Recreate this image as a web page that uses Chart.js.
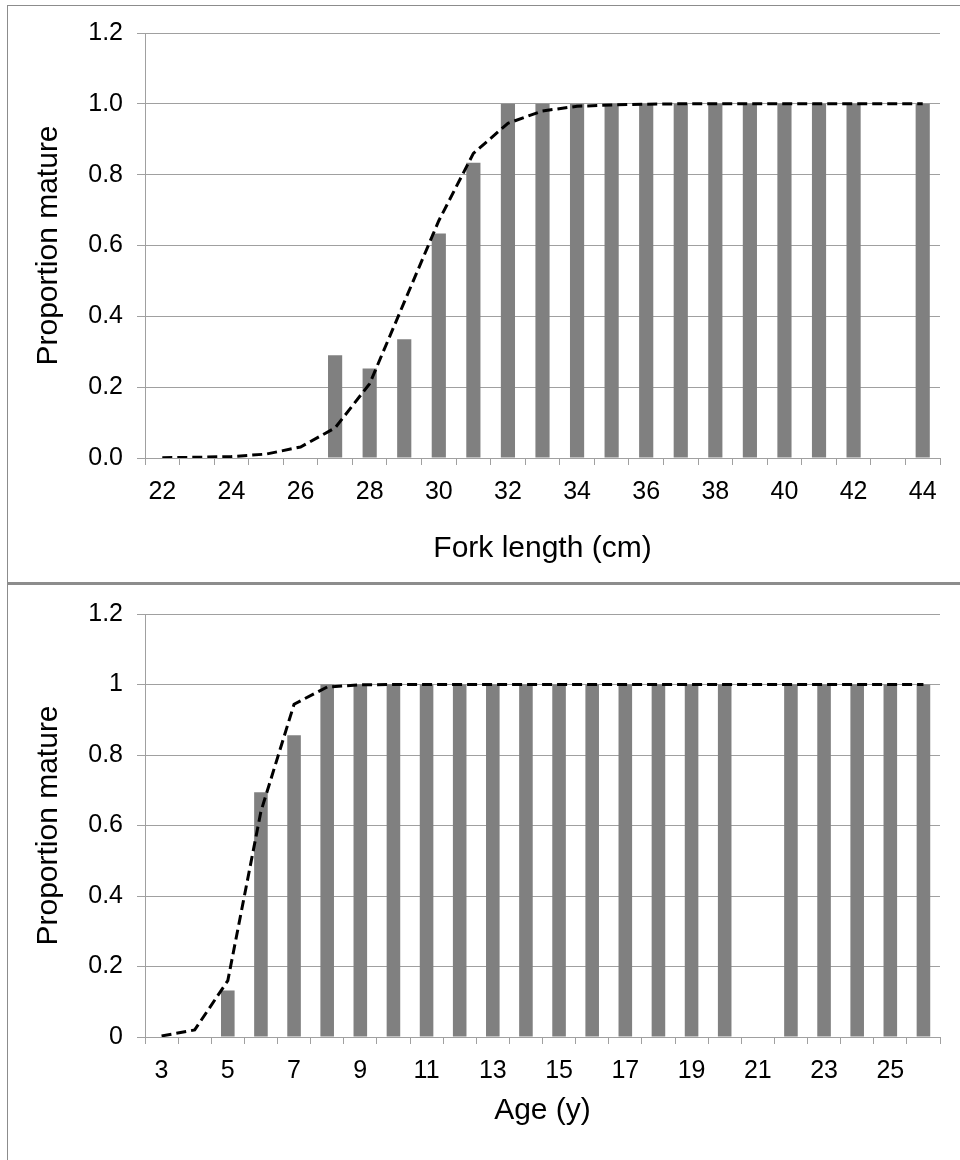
<!DOCTYPE html>
<html>
<head>
<meta charset="utf-8">
<script src="https://cdn.jsdelivr.net/npm/chart.js@4.4.1/dist/chart.umd.min.js"></script>
<style>
  body { margin: 0; background: #fff; }
  #page { position: relative; width: 960px; height: 1160px; overflow: hidden; background: #fff; }
  canvas { position: absolute; left: 0; }
  .rule { position: absolute; background: #8c8c8c; }
</style>
</head>
<body>
<div id="page">
  <canvas id="lengthChart" width="960" height="582" style="top:0"></canvas>
  <canvas id="ageChart" width="960" height="575" style="top:585px"></canvas>
  <div class="rule" style="left:7px;top:5px;width:953px;height:1px"></div>
  <div class="rule" style="left:7px;top:5px;width:1px;height:1155px"></div>
  <div class="rule" style="left:7px;top:582px;width:953px;height:3px"></div>
</div>
<script>
// maturity by fork length (cm)
const lengthCats = ['22','23','24','25','26','27','28','29','30','31','32','33',
                    '34','35','36','37','38','39','40','41','42','43','44'];
const lengthObserved = [0, 0, 0, 0, 0, 0.29, 0.253, 0.335, 0.634, 0.834, 1, 1,
                        1, 1, 1, 1, 1, 1, 1, 1, 1, null, 1];
const lengthFitted = [0.001, 0.002, 0.004, 0.011, 0.031, 0.085, 0.21, 0.44, 0.67, 0.86, 0.945, 0.98,
                      0.993, 0.997, 0.999, 1, 1, 1, 1, 1, 1, 1, 1];

// maturity by age (y)
const ageCats = ['3','4','5','6','7','8','9','10','11','12','13','14',
                 '15','16','17','18','19','20','21','22','23','24','25','26'];
const ageObserved = [0, 0, 0.132, 0.694, 0.856, 1, 1, 1, 1, 1, 1, 1,
                     1, 1, 1, 1, 1, 1, null, 1, 1, 1, 1, 1];
const ageFitted = [0.003, 0.02, 0.16, 0.64, 0.944, 0.993, 0.999, 1, 1, 1, 1, 1,
                   1, 1, 1, 1, 1, 1, 1, 1, 1, 1, 1, 1];

const FONT = "'Liberation Sans', Arial, sans-serif";
const GRID = '#a0a0a0';

function maturityChart(id, cats, observed, fitted, o) {
    return new Chart(document.getElementById(id), {
        type: 'bar',
        data: {
            labels: cats,
            datasets: [{
                type: 'line',
                data: fitted,
                borderColor: '#000',
                borderWidth: 3,
                borderDash: [10, 5],
                pointRadius: 0,
                tension: 0,
                fill: false,
                order: 0
            }, {
                type: 'bar',
                data: observed,
                backgroundColor: '#808080',
                barPercentage: 0.41,
                categoryPercentage: 1,
                order: 1
            }]
        },
        options: {
            responsive: false,
            animation: false,
            layout: { padding: { top: o.top, right: 20, left: 0, bottom: 0 } },
            plugins: { legend: { display: false }, tooltip: { enabled: false } },
            scales: {
                x: {
                    grid: { drawOnChartArea: false, color: GRID, tickLength: 7, offset: true },
                    border: { color: GRID },
                    ticks: {
                        autoSkip: false, maxRotation: 0, padding: 12, color: '#000',
                        font: { family: FONT, size: 25 },
                        callback: (v, i) => i % 2 === 0 ? cats[i] : ''
                    },
                    title: {
                        display: true, text: o.xTitle, color: '#000',
                        font: { family: FONT, size: 30 },
                        padding: { top: 0, bottom: o.xTitlePad }
                    },
                    afterFit: s => { s.height = o.xHeight; }
                },
                y: {
                    min: 0, max: 1.2,
                    grid: { color: GRID, tickLength: 8 },
                    border: { color: GRID },
                    ticks: {
                        stepSize: 0.2, padding: 14, color: '#000',
                        font: { family: FONT, size: 25 },
                        callback: o.yFmt
                    },
                    title: {
                        display: true, text: 'Proportion mature', color: '#000',
                        font: { family: FONT, size: 30 },
                        padding: { top: 31, bottom: 0 }
                    },
                    afterFit: s => { s.width = 145; }
                }
            }
        }
    });
}

maturityChart('lengthChart', lengthCats, lengthObserved, lengthFitted, {
    top: 33, xHeight: 124, xTitlePad: 15, xTitle: 'Fork length (cm)',
    yFmt: v => v.toFixed(1)
});
maturityChart('ageChart', ageCats, ageObserved, ageFitted, {
    top: 28, xHeight: 123, xTitlePad: 31, xTitle: 'Age (y)',
    yFmt: v => String(Math.round(v * 10) / 10)
});
</script>
</body>
</html>
